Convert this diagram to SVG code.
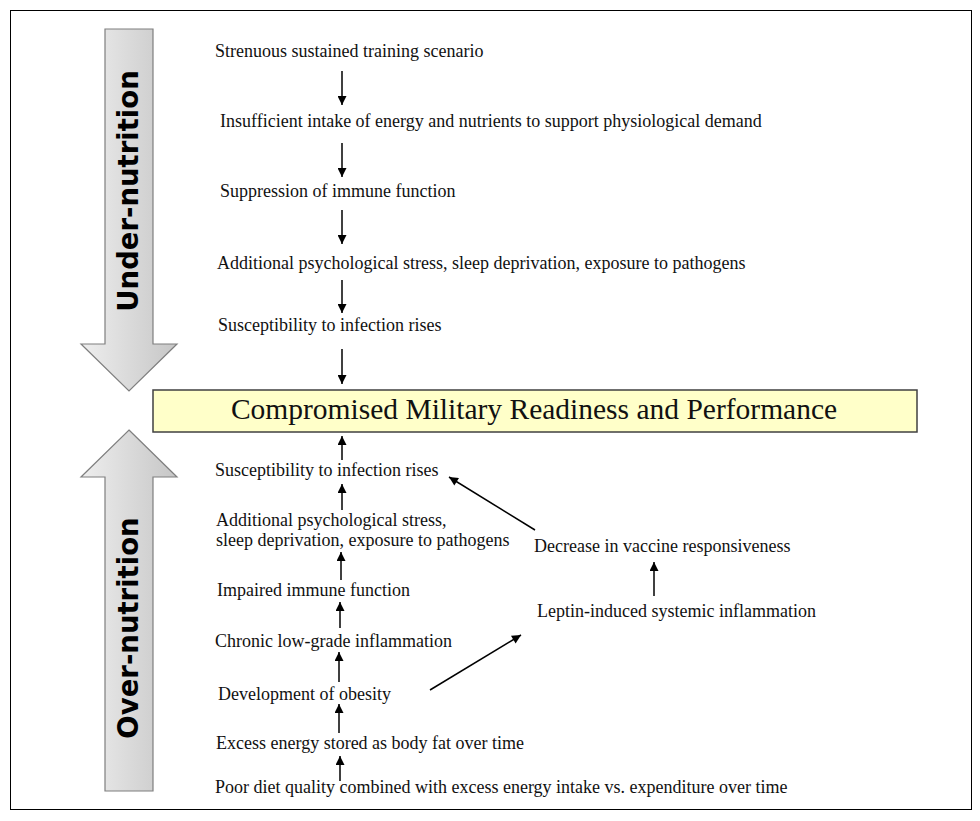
<svg xmlns="http://www.w3.org/2000/svg" width="980" height="821" viewBox="0 0 980 821">
<style>
.t{font-family:"Liberation Serif","Times New Roman",serif;font-size:18px;fill:#111}
.big{font-family:"Liberation Serif","Times New Roman",serif;font-size:29.5px;fill:#111}
.side{font-family:"DejaVu Sans",Verdana,sans-serif;font-weight:bold;font-size:27.5px;fill:#000}
.c{stroke:#000;stroke-width:1.5;fill:none}
.bigarrow{fill:url(#g);stroke:#7f7f7f;stroke-width:1.2}
</style>
<defs>
<linearGradient id="g" x1="0" y1="0" x2="1" y2="0">
<stop offset="0" stop-color="#eeeeee"/>
<stop offset="1" stop-color="#c6c6c6"/>
</linearGradient>
<marker id="ah" viewBox="0 0 10 10" refX="10" refY="5" markerWidth="10" markerHeight="9" markerUnits="userSpaceOnUse" orient="auto">
<path d="M0,0 L10,5 L0,10 z" fill="#000"/>
</marker>
</defs>
<rect x="0" y="0" width="980" height="821" fill="#fff"/>
<rect x="10.5" y="10.5" width="961" height="799" fill="none" stroke="#000" stroke-width="1"/>

<g id="under-arrow">
<path class="bigarrow" d="M105,29 H153 V344 H177 L129,391 L81,344 H105 Z"/>
<text class="side" transform="translate(137.5,191) rotate(-90)" text-anchor="middle">Under-nutrition</text>
</g>
<g id="over-arrow">
<path class="bigarrow" d="M129,430 L177,477 H153 V791 H105 V477 H81 Z"/>
<text class="side" transform="translate(137.5,628) rotate(-90)" text-anchor="middle">Over-nutrition</text>
</g>

<g id="main">
<rect x="153" y="390" width="764" height="42" fill="#ffffc9" stroke="#404040" stroke-width="1.5"/>
<text class="big" x="534" y="419" text-anchor="middle">Compromised Military Readiness and Performance</text>
</g>

<g id="u1"><text class="t" x="215" y="57">Strenuous sustained training scenario</text></g>
<g id="u2"><text class="t" x="220" y="127">Insufficient intake of energy and nutrients to support physiological demand</text></g>
<g id="u3"><text class="t" x="220" y="197">Suppression of immune function</text></g>
<g id="u4"><text class="t" x="217" y="269">Additional psychological stress, sleep deprivation, exposure to pathogens</text></g>
<g id="u5"><text class="t" x="218" y="331">Susceptibility to infection rises</text></g>

<g id="o1"><text class="t" x="215" y="476">Susceptibility to infection rises</text></g>
<g id="o2"><text class="t" x="216" y="526">Additional psychological stress,</text><text class="t" x="216" y="546">sleep deprivation, exposure to pathogens</text></g>
<g id="o3"><text class="t" x="217" y="596">Impaired immune function</text></g>
<g id="o4"><text class="t" x="215" y="647">Chronic low-grade inflammation</text></g>
<g id="o5"><text class="t" x="218" y="700">Development of obesity</text></g>
<g id="o6"><text class="t" x="216" y="749">Excess energy stored as body fat over time</text></g>
<g id="o7"><text class="t" x="215" y="793">Poor diet quality combined with excess energy intake vs. expenditure over time</text></g>
<g id="v1"><text class="t" x="534" y="552">Decrease in vaccine responsiveness</text></g>
<g id="v2"><text class="t" x="537" y="617">Leptin-induced systemic inflammation</text></g>

<g id="connectors">
<line class="c" x1="342" y1="71" x2="342" y2="105" marker-end="url(#ah)"/>
<line class="c" x1="342" y1="143" x2="342" y2="177" marker-end="url(#ah)"/>
<line class="c" x1="342" y1="210" x2="342" y2="244" marker-end="url(#ah)"/>
<line class="c" x1="342" y1="280" x2="342" y2="313" marker-end="url(#ah)"/>
<line class="c" x1="342" y1="349" x2="342" y2="384" marker-end="url(#ah)"/>

<line class="c" x1="342" y1="460" x2="342" y2="436" marker-end="url(#ah)"/>
<line class="c" x1="342" y1="510" x2="342" y2="484" marker-end="url(#ah)"/>
<line class="c" x1="341" y1="580" x2="341" y2="552" marker-end="url(#ah)"/>
<line class="c" x1="340" y1="628" x2="340" y2="602" marker-end="url(#ah)"/>
<line class="c" x1="339" y1="682" x2="339" y2="652" marker-end="url(#ah)"/>
<line class="c" x1="339" y1="733" x2="339" y2="704" marker-end="url(#ah)"/>
<line class="c" x1="340" y1="781" x2="340" y2="756" marker-end="url(#ah)"/>

<line class="c" x1="430" y1="690" x2="521" y2="635" marker-end="url(#ah)"/>
<line class="c" x1="654" y1="596" x2="654" y2="562" marker-end="url(#ah)"/>
<line class="c" x1="535" y1="530" x2="449" y2="477" marker-end="url(#ah)"/>
</g>
</svg>
